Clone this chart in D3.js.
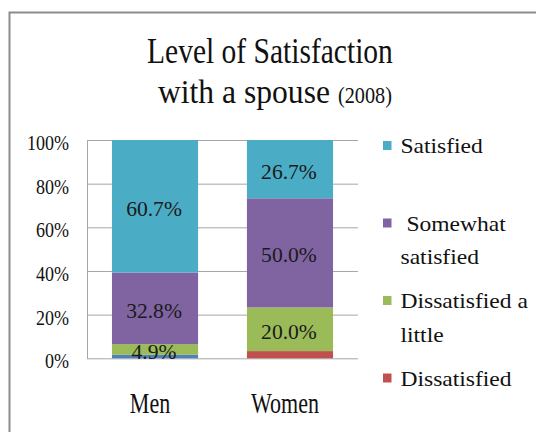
<!DOCTYPE html>
<html>
<head>
<meta charset="utf-8">
<script src="https://cdn.jsdelivr.net/npm/d3@7"></script>
</head>
<body style="margin:0;padding:0;background:#ffffff;">
<svg id="chart" width="536" height="432" style="display:block"></svg>
<script>
// ---- data ----
const categories = ["Men", "Women"];
const seriesNames = ["Dissatisfied", "Dissatisfied a little", "Somewhat satisfied", "Satisfied"]; // bottom -> top
const dissatisfied       = [0.016, 0.033];
const dissatisfiedLittle = [0.049, 0.200];
const somewhatSatisfied  = [0.328, 0.500];
const satisfied          = [0.607, 0.267];
const tickValues = [0, 0.2, 0.4, 0.6, 0.8, 1.0];
const titleLine1 = "Level of Satisfaction";
const titleLine2 = "with a spouse";
const titleYear = "(2008)";
// legend order (top -> bottom) and wrapped lines
const legendKeys = ["Satisfied", "Somewhat satisfied", "Dissatisfied a little", "Dissatisfied"];
const legendLines = [["Satisfied"], [" Somewhat", "satisfied"], ["Dissatisfied a", "little"], ["Dissatisfied"]];

// ---- styles ----
const FONT = "'Liberation Serif'";
const colors = {
  "Satisfied": "#4bacc6",
  "Somewhat satisfied": "#8064a2",
  "Dissatisfied a little": "#9bbb59",
  "Dissatisfied": "#c0504d"
};
const overrideColor = { "Men|Dissatisfied": "#4f81bd" };

const rows = categories.map((c, i) => ({
  category: c,
  "Dissatisfied": dissatisfied[i],
  "Dissatisfied a little": dissatisfiedLittle[i],
  "Somewhat satisfied": somewhatSatisfied[i],
  "Satisfied": satisfied[i]
}));

const svg = d3.select("#chart");

// text placed at (x,y) and scaled horizontally, either to a target width or by a factor
function label(parent, str, x, y, size, anchor, opt) {
  const t = parent.append("text")
    .style("font-family", FONT).style("font-size", size + "px")
    .attr("fill", opt.fill || "#111")
    .attr("text-anchor", anchor)
    .attr("xml:space", "preserve")
    .style("white-space", "pre")
    .attr("x", 0).attr("y", 0)
    .text(str);
  const w = t.node().getComputedTextLength();
  const s = opt.width ? opt.width / w : (opt.factor || 1);
  t.attr("transform", `translate(${x},${y}) scale(${s},1)`);
  return t;
}

// frame
svg.append("rect").attr("width", 536).attr("height", 432).attr("fill", "#ffffff");
svg.append("rect")
  .attr("x", 9.5).attr("y", 12.5).attr("width", 600).attr("height", 500)
  .attr("fill", "none").attr("stroke", "#8c8c8c").attr("stroke-width", 2);

// title
label(svg, titleLine1, 147, 62.5, 36, "start", { width: 246 });
label(svg, titleLine2, 158, 103, 33, "start", { width: 172 });
label(svg, titleYear, 338, 103, 24, "start", { width: 54 });

// scales
const x = d3.scaleBand().domain(categories).range([87, 358]).paddingInner(0.362).paddingOuter(0.185);
const y = d3.scaleLinear().domain([0, 1]).range([358.3, 140]);

// y axis with gridlines (tick labels drawn separately so they can be scaled)
const yAxis = svg.append("g").attr("transform", "translate(87,0)")
  .call(d3.axisLeft(y).tickValues(tickValues).tickFormat("")
    .tickSize(-(358 - 87)).tickSizeOuter(0));
yAxis.select(".domain").attr("stroke", "#a6a6a6").attr("stroke-width", 1);
yAxis.selectAll(".tick line").attr("stroke", "#a6a6a6").attr("stroke-width", 1);
yAxis.selectAll(".tick text").remove();
const tickG = svg.append("g");
tickValues.forEach(v => {
  label(tickG, d3.format(".0%")(v), 69, y(v) + 10, 20, "end", { factor: 0.9 });
});

// stacked bars
const stack = d3.stack().keys(seriesNames)(rows);
const layers = svg.append("g").selectAll("g").data(stack).join("g");
layers.selectAll("rect")
  .data(s => s.map(d => ({ key: s.key, cat: d.data.category, y0: d[0], y1: d[1] })))
  .join("rect")
  .attr("x", d => x(d.cat))
  .attr("width", x.bandwidth())
  .attr("y", d => y(d.y1))
  .attr("height", d => y(d.y0) - y(d.y1))
  .attr("fill", d => overrideColor[d.cat + "|" + d.key] || colors[d.key]);

// data labels
const labelG = svg.append("g");
stack.forEach(s => s.forEach(d => {
  const v = d.data[s.key];
  if (v >= 0.04) {
    label(labelG, d3.format(".1%")(v), x(d.data.category) + x.bandwidth() / 2 - 1,
      y((d[0] + d[1]) / 2) + 9.5, 20, "middle", { factor: 1.08, fill: "#1a1a1a" });
  }
}));

// category labels
const catG = svg.append("g");
categories.forEach(c => {
  label(catG, c, x(c) + x.bandwidth() / 2 - 5, 413, 29, "middle", { factor: 0.76 });
});

// legend
const legend = svg.append("g");
legendKeys.forEach((k, i) => {
  const cy = 145.5 + i * 77.5;
  legend.append("rect").attr("x", 383).attr("y", cy - 4.5).attr("width", 8.5).attr("height", 9)
    .attr("fill", colors[k]);
  legendLines[i].forEach((line, j) => {
    label(legend, line, 400.5, cy + 7.5 + j * 33.5, 22, "start", { factor: 1.07 });
  });
});
</script>
</body>
</html>
